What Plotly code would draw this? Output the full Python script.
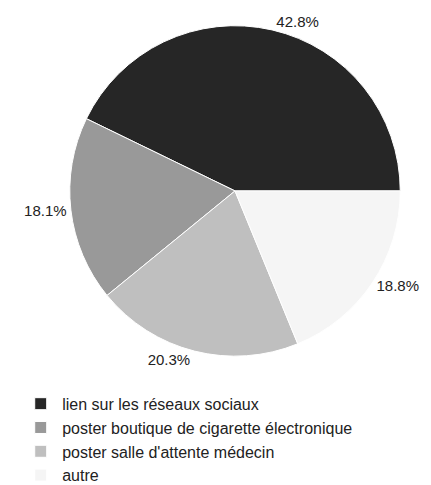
import plotly.graph_objects as go

labels = ["lien sur les réseaux sociaux",
          "poster boutique de cigarette électronique",
          "poster salle d'attente médecin",
          "autre"]
values = [42.8, 18.1, 20.3, 18.8]
colors = ["#262626", "#999999", "#bfbfbf", "#f5f5f5"]

# plotly's counterclockwise mode puts the first slice clockwise of `rotation`;
# choose rotation so the first slice starts at 3 o'clock and runs counterclockwise
rotation = 90 - 360 * values[0] / sum(values)

fig = go.Figure(go.Pie(
    labels=labels, values=values, sort=False,
    direction="counterclockwise", rotation=rotation,
    marker=dict(colors=colors, line=dict(color="white", width=1)),
    textposition="outside", texttemplate="%{value:.1f}%",
    textfont=dict(family="Liberation Sans, Arial", size=15, color="#222222"),
    domain=dict(x=[0.1369, 0.9165], y=[0.2722, 0.9650]),
    hoverinfo="label+percent",
))
fig.update_layout(
    width=431, height=485,
    margin=dict(l=0, r=0, t=0, b=0),
    paper_bgcolor="white",
    font=dict(family="Liberation Sans, Arial", size=16, color="#222222"),
    showlegend=True,
    legend=dict(x=0.026, y=0.208, xanchor="left", yanchor="top",
                font=dict(size=16), orientation="v", itemwidth=33),
)
fig.write_html("out.html")
